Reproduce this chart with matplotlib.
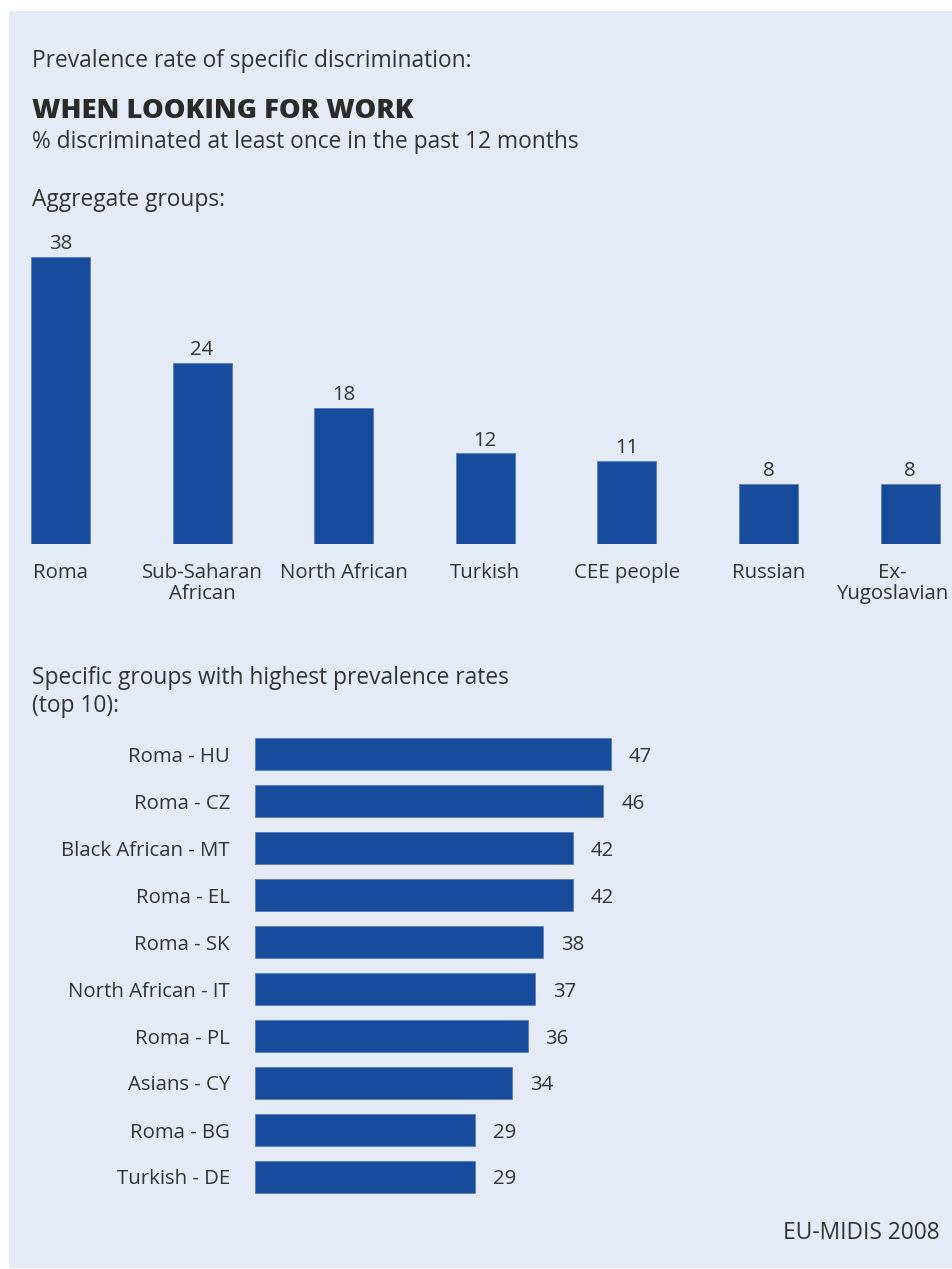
import matplotlib.pyplot as plt
from matplotlib.patches import Rectangle

plt.rcParams['font.family'] = ['Open Sans', 'DejaVu Sans']

# aggregate groups
agg_groups = ['Roma', 'Sub-Saharan\nAfrican', 'North African', 'Turkish',
              'CEE people', 'Russian', 'Ex-\nYugoslavian']
agg_values = [38, 24, 18, 12, 11, 8, 8]

# top 10 specific groups
top_groups = ['Roma - HU', 'Roma - CZ', 'Black African - MT', 'Roma - EL',
              'Roma - SK', 'North African - IT', 'Roma - PL', 'Asians - CY',
              'Roma - BG', 'Turkish - DE']
top_values = [47, 46, 42, 42, 38, 37, 36, 34, 29, 29]

W, H = 952, 1269
bg = '#e4eaf6'
bar_col = '#174c9c'
txt = '#333333'

fig = plt.figure(figsize=(W / 100, H / 100), dpi=100)
fig.patch.set_facecolor('white')


def fx(px):
    return px / W


def fy(py):
    return 1 - py / H


# panel background
fig.patches.append(Rectangle((fx(9), fy(1268)), fx(952) - fx(9), fy(11) - fy(1268),
                             transform=fig.transFigure, facecolor=bg,
                             edgecolor='none', zorder=-10))

fs = 16.4
lfs = 14.7
fig.text(fx(32), fy(67), 'Prevalence rate of specific discrimination:',
         fontsize=fs, color=txt, va='baseline')
fig.text(fx(32), fy(118), 'WHEN LOOKING FOR WORK', fontsize=19.7,
         fontweight='heavy', color='#2a2a2a', va='baseline')
fig.text(fx(32), fy(148), '% discriminated at least once in the past 12 months',
         fontsize=fs, color=txt, va='baseline')
fig.text(fx(32), fy(206), 'Aggregate groups:', fontsize=fs, color=txt, va='baseline')
fig.text(fx(32), fy(684), 'Specific groups with highest prevalence rates',
         fontsize=fs, color=txt, va='baseline')
fig.text(fx(32), fy(712), '(top 10):', fontsize=fs, color=txt, va='baseline')
fig.text(fx(940), fy(1239), 'EU-MIDIS 2008', fontsize=fs, color=txt,
         va='baseline', ha='right')

# ---- top chart: vertical bars ----
ax1 = fig.add_axes([fx(9), fy(544), fx(952) - fx(9), fy(220) - fy(544)])
ax1.set_facecolor('none')
pitch = 141.6
ax1.set_xlim((9 - 60.5) / pitch, (952 - 60.5) / pitch)
ax1.set_ylim(0, 324 / 7.55)
xs = list(range(len(agg_values)))
ax1.bar(xs, agg_values, width=59 / pitch, color=bar_col, edgecolor='#5a7fc0',
        linewidth=0.6)
for x, v in zip(xs, agg_values):
    ax1.annotate(str(v), (x, v), xytext=(0, 2), textcoords='offset points',
                 ha='center', va='bottom', fontsize=lfs, color=txt)
for i, (x, lab) in enumerate(zip(xs, agg_groups)):
    dx = -12.5 if i == len(xs) - 1 else 0
    ax1.annotate(lab, (x, 0), xytext=(dx, -14), textcoords='offset points',
                 ha='center', va='top', fontsize=lfs, color=txt,
                 linespacing=1.03, annotation_clip=False)
ax1.set_xticks([])
ax1.set_yticks([])
for s in ax1.spines.values():
    s.set_visible(False)

# ---- bottom chart: horizontal bars ----
ax2 = fig.add_axes([fx(255), fy(1202), fx(952) - fx(255), fy(730) - fy(1202)])
ax2.set_facecolor('none')
ax2.set_xlim(0, 697 / 7.57)
ax2.set_ylim((1202 - 754) / 47, (730 - 754) / 47)
ys = list(range(len(top_values)))
ax2.barh(ys, top_values, height=32 / 47, color=bar_col, edgecolor='#5a7fc0',
         linewidth=0.6)
for y, v in zip(ys, top_values):
    ax2.annotate(str(v), (v, y), xytext=(13, 0), textcoords='offset points',
                 ha='left', va='center_baseline', fontsize=lfs, color=txt)
ax2.set_yticks(ys)
ax2.set_yticklabels(top_groups, fontsize=lfs, color=txt, va='center_baseline')
ax2.tick_params(axis='y', length=0, pad=18)
ax2.set_xticks([])
for s in ax2.spines.values():
    s.set_visible(False)

fig.savefig('out.png', dpi=100)
